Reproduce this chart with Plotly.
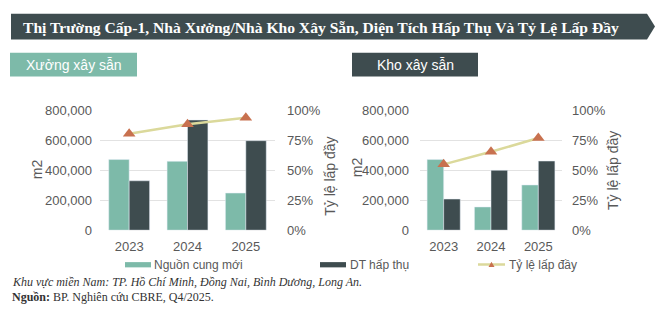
import plotly.graph_objects as go
from plotly.subplots import make_subplots

# ---------------- data ----------------
years = ["2023", "2024", "2025"]

xuong_supply = [472000, 460000, 248000]     # Nguồn cung mới
xuong_absorb = [330000, 736000, 598000]     # DT hấp thụ
xuong_occ = [0.805, 0.885, 0.94]            # Tỷ lệ lấp đầy

kho_supply = [472000, 155000, 302000]
kho_absorb = [208000, 400000, 462000]
kho_occ = [0.55, 0.655, 0.77]

y_ticks = [0, 200000, 400000, 600000, 800000]
pct_ticks = [0, 0.25, 0.5, 0.75, 1.0]

# ---------------- style ----------------
W, H = 669, 324
LIGHT = "#7dbaa9"
DARK = "#3e4c4f"
LINE = "#dbd99b"
TRI = "#c8714f"
GRAY = "#595959"
GRID = "#e2e2e2"
SANS = "Liberation Sans, Arial, sans-serif"
SERIF = "Liberation Serif, Times New Roman, serif"


def px(x):
    return x / W


def py(y):
    return 1 - y / H


fig = make_subplots(rows=1, cols=2,
                    specs=[[{"secondary_y": True}, {"secondary_y": True}]])

panels = [(1, xuong_supply, xuong_absorb, xuong_occ),
          (2, kho_supply, kho_absorb, kho_occ)]
for col, sup, ab, occ in panels:
    fig.add_trace(go.Bar(x=years, y=sup, name="Nguồn cung mới",
                         marker_color=LIGHT, showlegend=False),
                  row=1, col=col, secondary_y=False)
    fig.add_trace(go.Bar(x=years, y=ab, name="DT hấp thụ",
                         marker_color=DARK, showlegend=False),
                  row=1, col=col, secondary_y=False)
    fig.add_trace(go.Scatter(x=years, y=occ, name="Tỷ lệ lấp đầy",
                             mode="lines+markers",
                             line=dict(color=LINE, width=2.5),
                             marker=dict(symbol="triangle-up", size=11,
                                         color=TRI),
                             showlegend=False),
                  row=1, col=col, secondary_y=True)

tickfont = dict(family=SANS, size=13, color=GRAY)
ydom = [py(234), py(108.5)]

fig.update_layout(
    width=W, height=H, autosize=False,
    margin=dict(l=0, r=0, t=0, b=0),
    paper_bgcolor="white", plot_bgcolor="white",
    barmode="group", bargap=0.3, bargroupgap=0,
    showlegend=False,
    xaxis=dict(domain=[px(100), px(275)], type="category",
               showgrid=False, tickfont=tickfont, ticks="",
               showline=False, zeroline=False, ticklabelstandoff=7),
    xaxis2=dict(domain=[px(420), px(562)], type="category",
                showgrid=False, tickfont=tickfont, ticks="",
                showline=False, zeroline=False, ticklabelstandoff=7),
)

for ax, standoff in (("yaxis", 7), ("yaxis3", 10)):
    fig.layout[ax].update(domain=ydom, range=[0, 800000],
                          tickvals=y_ticks, tickformat=",d",
                          showgrid=True, gridcolor=GRID, gridwidth=1,
                          zeroline=False, showline=False,
                          tickfont=tickfont, ticklabelstandoff=standoff)
for ax, standoff in (("yaxis2", 11), ("yaxis4", 9)):
    fig.layout[ax].update(domain=ydom, range=[0, 1],
                          tickvals=pct_ticks, tickformat=".0%",
                          showgrid=False, zeroline=False, showline=False,
                          tickfont=tickfont, ticklabelstandoff=standoff)

shapes = []
annotations = []

# title banner (arrow shape)
pts = [(11, 7), (647, 7), (655, 20.5), (647, 34), (11, 34)]
path = "M " + " L ".join(f"{px(x):.5f},{py(y):.5f}" for x, y in pts) + " Z"
shapes.append(dict(type="path", path=path, xref="paper", yref="paper",
                   fillcolor="#3e4c4f", line=dict(width=0), layer="below"))
annotations.append(dict(
    text="<b>Thị Trường Cấp-1, Nhà Xưởng/Nhà Kho Xây Sẵn, Diện Tích Hấp Thụ Và Tỷ Lệ Lấp Đầy</b>",
    x=px(21), y=py(21), xref="paper", yref="paper",
    xanchor="left", yanchor="middle", showarrow=False,
    font=dict(family=SERIF, size=15.6, color="white")))

# panel headers
for (x0, x1, color, label) in ((10, 137, LIGHT, "Xưởng xây sẫn"),
                               (352, 478, DARK, "Kho xây sẫn")):
    shapes.append(dict(type="rect", xref="paper", yref="paper",
                       x0=px(x0), x1=px(x1), y0=py(73), y1=py(48),
                       fillcolor=color, line=dict(width=0), layer="below"))
    annotations.append(dict(text=label, x=px((x0 + x1) / 2), y=py(61),
                            xref="paper", yref="paper", showarrow=False,
                            xanchor="center", yanchor="middle",
                            font=dict(family=SANS, size=14, color="white")))

# axis titles
for (x, y, txt) in ((37, 170, "m2"), (357, 168, "m2"),
                    (330, 178, "Tỷ lệ lấp đầy"), (613, 172, "Tỷ lệ lấp đầy")):
    annotations.append(dict(text=txt, x=px(x), y=py(y), xref="paper",
                            yref="paper", showarrow=False, textangle=-90,
                            xanchor="center", yanchor="middle",
                            font=dict(family=SANS, size=14, color=GRAY)))

# legend
LY = 270
shapes.append(dict(type="rect", xref="paper", yref="paper",
                   x0=px(125), x1=px(151), y0=py(273), y1=py(267.5),
                   fillcolor=LIGHT, line=dict(width=0)))
shapes.append(dict(type="rect", xref="paper", yref="paper",
                   x0=px(320), x1=px(346), y0=py(273), y1=py(267.5),
                   fillcolor=DARK, line=dict(width=0)))
shapes.append(dict(type="line", xref="paper", yref="paper",
                   x0=px(478), x1=px(505), y0=py(LY), y1=py(LY),
                   line=dict(color=LINE, width=2.5)))
tri = [(491.5, 267), (494.5, 272.5), (488.5, 272.5)]
shapes.append(dict(type="path", xref="paper", yref="paper",
                   path="M " + " L ".join(f"{px(x):.5f},{py(y):.5f}" for x, y in tri) + " Z",
                   fillcolor=TRI, line=dict(width=0)))
for (x, txt) in ((152, "Nguồn cung mới"), (348, "DT hấp thụ"),
                 (507, "Tỷ lệ lấp đầy")):
    annotations.append(dict(text=txt, x=px(x), y=py(LY), xref="paper",
                            yref="paper", showarrow=False, xanchor="left",
                            yanchor="middle",
                            font=dict(family=SANS, size=12, color=GRAY)))

# footer
annotations.append(dict(
    text="<i>Khu vực miền Nam: TP. Hồ Chí Minh, Đồng Nai, Bình Dương, Long An.</i>",
    x=px(10), y=py(288), xref="paper", yref="paper", showarrow=False,
    xanchor="left", yanchor="middle",
    font=dict(family=SERIF, size=12, color="#333333")))
annotations.append(dict(
    text="<b>Nguồn:</b> BP. Nghiên cứu CBRE, Q4/2025.",
    x=px(10), y=py(304), xref="paper", yref="paper", showarrow=False,
    xanchor="left", yanchor="middle",
    font=dict(family=SERIF, size=12, color="#333333")))

fig.update_layout(shapes=shapes, annotations=annotations)
fig.write_html("out.html")
